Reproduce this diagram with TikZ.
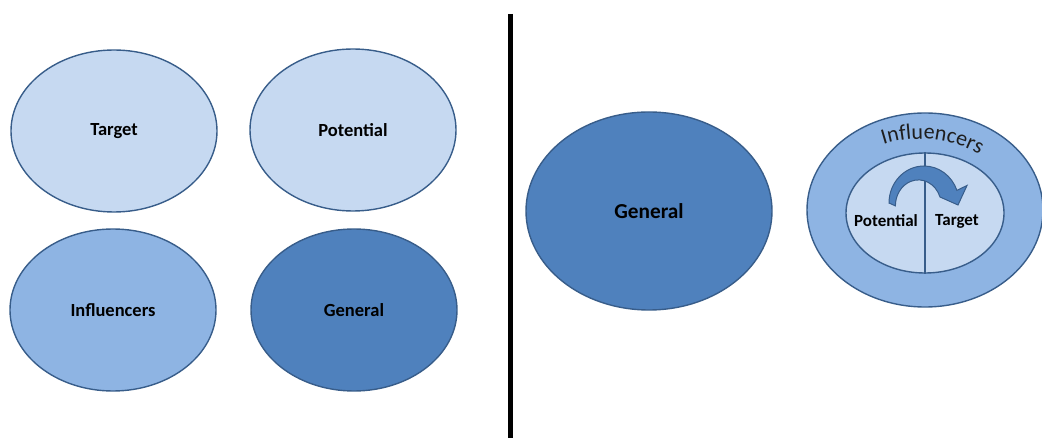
\documentclass[tikz,border=0pt]{standalone}
\usepackage{fontspec}
\setmainfont{Carlito}
\usetikzlibrary{shapes.geometric,decorations.text}
\definecolor{lightfill}{HTML}{C6D9F1}
\definecolor{midfill}{HTML}{8EB4E3}
\definecolor{darkfill}{HTML}{4F81BD}
\definecolor{edge}{HTML}{385D8A}
\definecolor{txtgray}{HTML}{1E1E1E}
\newcommand{\labfont}{\fontsize{18.5}{22}\selectfont\bfseries}
\newcommand{\biglabfont}{\fontsize{21.3}{25}\selectfont\bfseries}
\newcommand{\smalllabfont}{\fontsize{17}{20}\selectfont\bfseries}
\newcommand{\inflfont}{\fontsize{22}{26}\selectfont}
\tikzset{
  blob/.style={ellipse, draw=edge, line width=1.4pt, inner sep=0pt,
    minimum width=206pt, minimum height=162pt, font=\labfont, text=black},
}
\begin{document}
\begin{tikzpicture}[x=1pt,y=-1pt]
\useasboundingbox (0,0) rectangle (1042,438);
% left quadrant
\node[blob, fill=lightfill] (target) at (114,131) {Target};
\node[blob, fill=lightfill] (potential) at (353,130) {Potential};
\node[blob, fill=midfill] (influencers) at (113,310) {Influencers};
\node[blob, fill=darkfill] (general) at (354,310) {General};
% divider
\coordinate (divtop) at (510,14);
\coordinate (divbot) at (510,438);
\draw[line width=5pt, black] (divtop) -- (divbot);
% right side
\node[blob, fill=darkfill, minimum width=246pt, minimum height=198pt, font=\biglabfont] (general2) at (649,211) {General};
\node[blob, fill=midfill, minimum width=236pt, minimum height=194pt] (outer) at (925,210) {};
\node[blob, fill=lightfill, minimum width=158pt, minimum height=120pt] (core) at (925,213) {};
\draw[edge, line width=1.4pt] (core.north) -- (core.south);
\node[font=\smalllabfont] (pot2) at (886,221) {Potential};
\node[font=\smalllabfont] (tar2) at (957,221) {Target};
% curved arrow
\filldraw[fill=darkfill, draw=edge, line width=1pt]
  (889,203) arc[start angle=180, end angle=20, x radius=35pt, y radius=37pt]
  -- (967,185.5) -- (958,205) -- (940,197)
  arc[start angle=20, end angle=180, x radius=23pt, y radius=26pt] -- cycle;
% curved label
\path[decorate, decoration={text along path, text align=center,
   text={|\inflfont\color{txtgray}|Influencers}}]
  (920,259) ++(124:120pt)
  arc[start angle=124, end angle=44, radius=120pt];
\end{tikzpicture}
\end{document}
